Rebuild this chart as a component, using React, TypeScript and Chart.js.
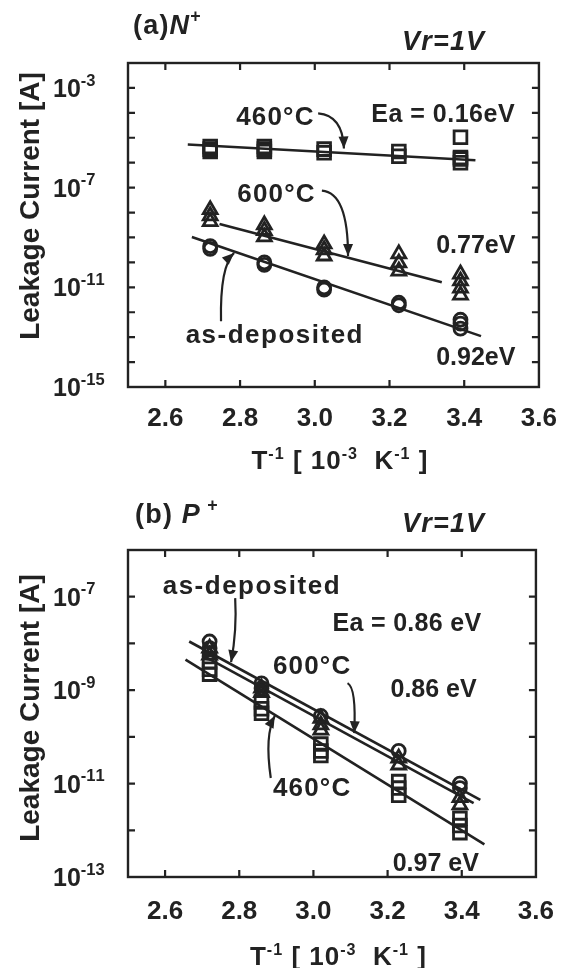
import React, { useEffect, useRef } from 'react';
import { Chart, registerables } from 'chart.js';

Chart.register(...registerables);

const W = 573;
const H = 484;
const FONT = '"Liberation Sans", Arial, Helvetica, sans-serif';
const INK = '#222';

// ---------- shared axis values ----------
const xTickValues = [2.6, 2.8, 3.0, 3.2, 3.4, 3.6];
const xMarkValues = [2.6, 2.8, 3.0, 3.2, 3.4];

// ---------- panel (a) N+ ----------
const aYLabelExps = [-3, -7, -11, -15];
const a460X = [2.72, 2.72, 2.72, 2.865, 2.865, 2.865, 3.025, 3.025, 3.225, 3.225, 3.39, 3.39, 3.39, 3.39];
const a460Y = [4.5e-6, 3.5e-6, 2.8e-6, 4.5e-6, 3.5e-6, 2.8e-6, 3.5e-6, 2.5e-6, 2.8e-6, 1.8e-6, 1.05e-5, 1.6e-6, 1.4e-6, 1.0e-6];
const a600X = [2.72, 2.72, 2.72, 2.865, 2.865, 2.865, 3.025, 3.025, 3.025, 3.225, 3.225, 3.225, 3.39, 3.39, 3.39, 3.39];
const a600Y = [1.3e-8, 7.4e-9, 4.3e-9, 3.2e-9, 1.9e-9, 1.05e-9, 5.5e-10, 3.2e-10, 1.8e-10, 2.2e-10, 9.5e-11, 4.5e-11, 3.4e-11, 1.8e-11, 9.3e-12, 4.9e-12];
const aDepX = [2.72, 2.72, 2.865, 2.865, 3.025, 3.025, 3.225, 3.225, 3.39, 3.39, 3.39];
const aDepY = [4.5e-10, 3.5e-10, 1.0e-10, 8e-11, 1.0e-11, 8e-12, 2.4e-12, 1.9e-12, 5e-13, 3.5e-13, 2.2e-13];
const aFit460X = [2.66, 3.43];
const aFit460Y = [5.4e-6, 1.26e-6];
const aFit600X = [2.745, 3.34];
const aFit600Y = [3.5e-9, 1.6e-11];
const aFitDepX = [2.671, 3.445];
const aFitDepY = [1.05e-9, 1.1e-13];

// ---------- panel (b) P+ ----------
const bYLabelExps = [-7, -9, -11, -13];
const bDepX = [2.72, 2.72, 2.72, 2.86, 2.86, 3.02, 3.23, 3.395, 3.395];
const bDepY = [1.1e-8, 7.9e-9, 6.3e-9, 1.4e-9, 1.1e-9, 2.8e-10, 5e-11, 1e-11, 8e-12];
const b600X = [2.72, 2.72, 2.86, 2.86, 3.02, 3.02, 3.02, 3.23, 3.23, 3.395, 3.395];
const b600Y = [7.9e-9, 5.6e-9, 1.1e-9, 8.9e-10, 2.5e-10, 1.8e-10, 1.4e-10, 3.5e-11, 2.5e-11, 5e-12, 3.5e-12];
const b460X = [2.72, 2.72, 2.72, 2.86, 2.86, 2.86, 3.02, 3.02, 3.02, 3.23, 3.23, 3.23, 3.395, 3.395, 3.395];
const b460Y = [4e-9, 2.8e-9, 2.2e-9, 5.6e-10, 4e-10, 3.2e-10, 7e-11, 5e-11, 4e-11, 1.1e-11, 8e-12, 5.6e-12, 1.8e-12, 1.26e-12, 8.9e-13];
const bFitDepX = [2.665, 3.45];
const bFitDepY = [1.1e-8, 4.5e-12];
const bFit600X = [2.70, 3.432];
const bFit600Y = [5.6e-9, 3.8e-12];
const bFit460X = [2.655, 3.461];
const bFit460Y = [4.5e-9, 5e-13];

type Part = { t: string; sup?: boolean; it?: boolean };
type Note = { x: number; y: number; parts: Part[]; size: number; sp?: number };
type Arrow = { pts: [number, number][] };
type Series = { xs: number[]; ys: number[]; style?: 'rect' | 'triangle' | 'circle'; r?: number };

type PanelCfg = {
  yMin: number;
  yMax: number;
  yLabelExps: number[];
  area: { left: number; right: number; top: number; bottom: number };
  markers: Series[];
  fits: Series[];
  notes: Note[];
  arrows: Arrow[];
  label: Part[];
  labelPos: [number, number];
  vrPos: [number, number];
  yTitlePos: [number, number];
  xTitleY: number;
  xTickPad: number;
};

const zip = (xs: number[], ys: number[]) => xs.map((x, i) => ({ x, y: ys[i] }));

function setFont(ctx: CanvasRenderingContext2D, size: number, it?: boolean) {
  ctx.font = `${it ? 'italic ' : ''}bold ${size}px ${FONT}`;
}

function drawParts(
  ctx: CanvasRenderingContext2D,
  parts: Part[],
  x: number,
  y: number,
  size: number,
  align: 'left' | 'center' | 'right',
  supScale = 0.64,
  supRise = 0.42,
  sp = 0
) {
  const supSize = size * supScale;
  const charW = (p: Part) => {
    setFont(ctx, p.sup ? supSize : size, p.it);
    return Array.from(p.t).map((c) => ctx.measureText(c).width + sp);
  };
  const widths = parts.map(charW);
  const total = widths.flat().reduce((a, b) => a + b, 0) - sp;
  let cx = align === 'left' ? x : align === 'center' ? x - total / 2 : x - total;
  const base = y + size * 0.36;
  ctx.textAlign = 'left';
  ctx.textBaseline = 'alphabetic';
  ctx.fillStyle = INK;
  parts.forEach((p, i) => {
    setFont(ctx, p.sup ? supSize : size, p.it);
    const by = p.sup ? base - size * supRise : base;
    Array.from(p.t).forEach((c, j) => {
      ctx.fillText(c, cx, by);
      cx += widths[i][j];
    });
  });
}

function makePlugin(cfg: PanelCfg) {
  return {
    id: 'panelDeco',
    beforeDatasetsDraw(chart: any) {
      const ctx: CanvasRenderingContext2D = chart.ctx;
      const { left, right, top, bottom } = chart.chartArea;
      const xs = chart.scales.x;
      const ys = chart.scales.y;
      ctx.save();
      ctx.strokeStyle = INK;
      ctx.lineWidth = 2.4;
      ctx.strokeRect(left, top, right - left, bottom - top);
      ctx.lineWidth = 2.2;
      const tl = 7;
      ctx.beginPath();
      xMarkValues.forEach((v) => {
        const p = xs.getPixelForValue(v);
        ctx.moveTo(p, bottom);
        ctx.lineTo(p, bottom - tl);
        ctx.moveTo(p, top);
        ctx.lineTo(p, top + tl);
      });
      const e0 = Math.round(Math.log10(cfg.yMin));
      const e1 = Math.round(Math.log10(cfg.yMax));
      for (let e = e0 + 1; e < e1; e++) {
        const p = ys.getPixelForValue(Math.pow(10, e));
        ctx.moveTo(left, p);
        ctx.lineTo(left + tl, p);
        ctx.moveTo(right, p);
        ctx.lineTo(right - tl, p);
      }
      ctx.stroke();
      ctx.restore();
    },
    afterDraw(chart: any) {
      const ctx: CanvasRenderingContext2D = chart.ctx;
      const { left, right } = chart.chartArea;
      const xs = chart.scales.x;
      const ys = chart.scales.y;
      ctx.save();
      // y tick labels
      cfg.yLabelExps.forEach((e) => {
        const p = ys.getPixelForValue(Math.pow(10, e));
        drawParts(ctx, [{ t: '10' }, { t: '-' + String(-e), sup: true }], 53, p, 25, 'left', 0.66, 0.45);
      });
      // y title
      ctx.save();
      ctx.translate(cfg.yTitlePos[0], cfg.yTitlePos[1]);
      ctx.rotate(-Math.PI / 2);
      drawParts(ctx, [{ t: 'Leakage Current [A]' }], 0, 0, 28, 'center');
      ctx.restore();
      // x title
      drawParts(
        ctx,
        [
          { t: 'T' },
          { t: '-1', sup: true },
          { t: ' [ 10' },
          { t: '-3', sup: true },
          { t: '  K' },
          { t: '-1', sup: true },
          { t: ' ]' },
        ],
        (left + right) / 2 + 6,
        cfg.xTitleY,
        26,
        'center',
        0.62,
        0.38,
        1
      );
      // panel label + Vr
      drawParts(ctx, cfg.label, cfg.labelPos[0], cfg.labelPos[1], 27, 'left', 0.66, 0.45, 1.2);
      drawParts(ctx, [{ t: 'Vr=1V', it: true }], cfg.vrPos[0], cfg.vrPos[1], 27, 'left', 0.64, 0.42, 1.2);
      // notes
      cfg.notes.forEach((n) => {
        drawParts(ctx, n.parts, xs.getPixelForValue(n.x), ys.getPixelForValue(n.y), n.size, 'center', 0.64, 0.42, n.sp || 0);
      });
      // arrows
      ctx.strokeStyle = INK;
      ctx.fillStyle = INK;
      ctx.lineWidth = 2.2;
      cfg.arrows.forEach((a) => {
        const P = a.pts.map(([x, y]) => [xs.getPixelForValue(x), ys.getPixelForValue(y)]);
        const [p0, p1, p2] = P;
        ctx.beginPath();
        ctx.moveTo(p0[0], p0[1]);
        ctx.quadraticCurveTo(p1[0], p1[1], p2[0], p2[1]);
        ctx.stroke();
        const ang = Math.atan2(p2[1] - p1[1], p2[0] - p1[0]);
        const L = 12;
        const Wd = 5;
        ctx.beginPath();
        ctx.moveTo(p2[0], p2[1]);
        ctx.lineTo(p2[0] - L * Math.cos(ang) + Wd * Math.sin(ang), p2[1] - L * Math.sin(ang) - Wd * Math.cos(ang));
        ctx.lineTo(p2[0] - L * Math.cos(ang) - Wd * Math.sin(ang), p2[1] - L * Math.sin(ang) + Wd * Math.cos(ang));
        ctx.closePath();
        ctx.fill();
      });
      ctx.restore();
    },
  };
}

const panelA: PanelCfg = {
  yMin: 1e-15,
  yMax: 1e-2,
  yLabelExps: aYLabelExps,
  area: { left: 128, right: 540, top: 63, bottom: 387 },
  markers: [
    { xs: aDepX, ys: aDepY, style: 'circle', r: 6.5 },
    { xs: a600X, ys: a600Y, style: 'triangle', r: 8 },
    { xs: a460X, ys: a460Y, style: 'rect', r: 9 },
  ],
  fits: [
    { xs: aFit460X, ys: aFit460Y },
    { xs: aFit600X, ys: aFit600Y },
    { xs: aFitDepX, ys: aFitDepY },
  ],
  notes: [
    { x: 2.893, y: Math.pow(10, -4.1), parts: [{ t: '460°C' }], size: 26, sp: 1.2 },
    { x: 3.343, y: Math.pow(10, -4.02), parts: [{ t: 'Ea = 0.16eV' }], size: 25, sp: 0.5 },
    { x: 2.896, y: Math.pow(10, -7.2), parts: [{ t: '600°C' }], size: 26, sp: 1.2 },
    { x: 3.431, y: Math.pow(10, -9.26), parts: [{ t: '0.77eV' }], size: 25 },
    { x: 2.891, y: Math.pow(10, -12.85), parts: [{ t: 'as-deposited' }], size: 26, sp: 1.5 },
    { x: 3.431, y: Math.pow(10, -13.77), parts: [{ t: '0.92eV' }], size: 25 },
  ],
  arrows: [
    { pts: [[3.009, Math.pow(10, -4.02)], [3.075, Math.pow(10, -4.1)], [3.078, Math.pow(10, -5.43)]] },
    { pts: [[3.019, Math.pow(10, -7.12)], [3.089, Math.pow(10, -7.2)], [3.089, Math.pow(10, -9.74)]] },
    { pts: [[2.749, Math.pow(10, -12.36)], [2.746, Math.pow(10, -10.15)], [2.784, Math.pow(10, -9.62)]] },
  ],
  label: [{ t: '(a)' }, { t: 'N', it: true }, { t: '+', sup: true }],
  labelPos: [133, 24],
  vrPos: [402, 40],
  yTitlePos: [29, 206],
  xTitleY: 460,
  xTickPad: 16,
};

const panelB: PanelCfg = {
  yMin: 1e-13,
  yMax: 1e-6,
  yLabelExps: bYLabelExps,
  area: { left: 128, right: 540, top: 66, bottom: 393 },
  markers: [
    { xs: bDepX, ys: bDepY, style: 'circle', r: 6.5 },
    { xs: b600X, ys: b600Y, style: 'triangle', r: 8 },
    { xs: b460X, ys: b460Y, style: 'rect', r: 9 },
  ],
  fits: [
    { xs: bFitDepX, ys: bFitDepY },
    { xs: bFit600X, ys: bFit600Y },
    { xs: bFit460X, ys: bFit460Y },
  ],
  notes: [
    { x: 2.832, y: Math.pow(10, -6.75), parts: [{ t: 'as-deposited' }], size: 26, sp: 1.5 },
    { x: 3.252, y: Math.pow(10, -7.54), parts: [{ t: 'Ea = 0.86 eV' }], size: 25, sp: 0.3 },
    { x: 2.995, y: Math.pow(10, -8.46), parts: [{ t: '600°C' }], size: 26, sp: 1.2 },
    { x: 3.324, y: Math.pow(10, -8.96), parts: [{ t: '0.86 eV' }], size: 25 },
    { x: 2.995, y: Math.pow(10, -11.07), parts: [{ t: '460°C' }], size: 26, sp: 1.2 },
    { x: 3.33, y: Math.pow(10, -12.68), parts: [{ t: '0.97 eV' }], size: 25 },
  ],
  arrows: [
    { pts: [[2.789, Math.pow(10, -7.03)], [2.794, Math.pow(10, -7.71)], [2.778, Math.pow(10, -8.4)]] },
    { pts: [[3.092, Math.pow(10, -8.85)], [3.116, Math.pow(10, -8.95)], [3.11, Math.pow(10, -9.92)]] },
    { pts: [[2.885, Math.pow(10, -10.88)], [2.868, Math.pow(10, -9.96)], [2.896, Math.pow(10, -9.55)]] },
  ],
  label: [{ t: '(b) ' }, { t: 'P', it: true }, { t: ' +', sup: true }],
  labelPos: [135, 29],
  vrPos: [402, 38],
  yTitlePos: [29, 224],
  xTitleY: 472,
  xTickPad: 19,
};

function Panel({ cfg }: { cfg: PanelCfg }) {
  const ref = useRef<HTMLCanvasElement>(null);
  useEffect(() => {
    const canvas = ref.current;
    if (!canvas) return;
    const markerSets = cfg.markers.map((m) => ({
      type: 'scatter' as const,
      data: zip(m.xs, m.ys),
      showLine: false,
      pointStyle: m.style,
      pointRadius: m.r,
      pointBorderWidth: 2.8,
      pointBorderColor: INK,
      pointBackgroundColor: 'rgba(255,255,255,0)',
      order: 1,
    }));
    const fitSets = cfg.fits.map((f) => ({
      type: 'scatter' as const,
      data: zip(f.xs, f.ys),
      showLine: true,
      pointRadius: 0,
      borderColor: INK,
      borderWidth: 2.6,
      order: 2,
    }));
    const chart = new Chart(canvas, {
      type: 'scatter',
      data: { datasets: [...markerSets, ...fitSets] as any },
      options: {
        animation: false,
        responsive: false,
        devicePixelRatio: 1,
        layout: {
          padding: { left: cfg.area.left, right: W - cfg.area.right, top: cfg.area.top, bottom: 0 },
        },
        plugins: { legend: { display: false }, tooltip: { enabled: false }, title: { display: false } },
        scales: {
          x: {
            type: 'linear',
            min: 2.5,
            max: 3.6,
            grid: { display: false, drawTicks: false },
            border: { display: false },
            afterBuildTicks: (s: any) => {
              s.ticks = xTickValues.map((v) => ({ value: v }));
            },
            afterFit: (s: any) => {
              s.height = H - cfg.area.bottom;
            },
            ticks: {
              autoSkip: false,
              maxRotation: 0,
              padding: cfg.xTickPad,
              color: INK,
              font: { family: FONT, size: 26, weight: 'bold' },
              callback: (v: any) => Number(v).toFixed(1),
            },
          },
          y: {
            type: 'logarithmic',
            min: cfg.yMin,
            max: cfg.yMax,
            display: false,
          },
        },
      } as any,
      plugins: [makePlugin(cfg)],
    });
    return () => chart.destroy();
  }, [cfg]);
  return <canvas ref={ref} width={W} height={H} style={{ display: 'block', width: W, height: H }} />;
}

export default function App() {
  return (
    <div style={{ position: 'fixed', left: 0, top: 0, width: W, height: 2 * H, background: '#fff' }}>
      <Panel cfg={panelA} />
      <Panel cfg={panelB} />
    </div>
  );
}
